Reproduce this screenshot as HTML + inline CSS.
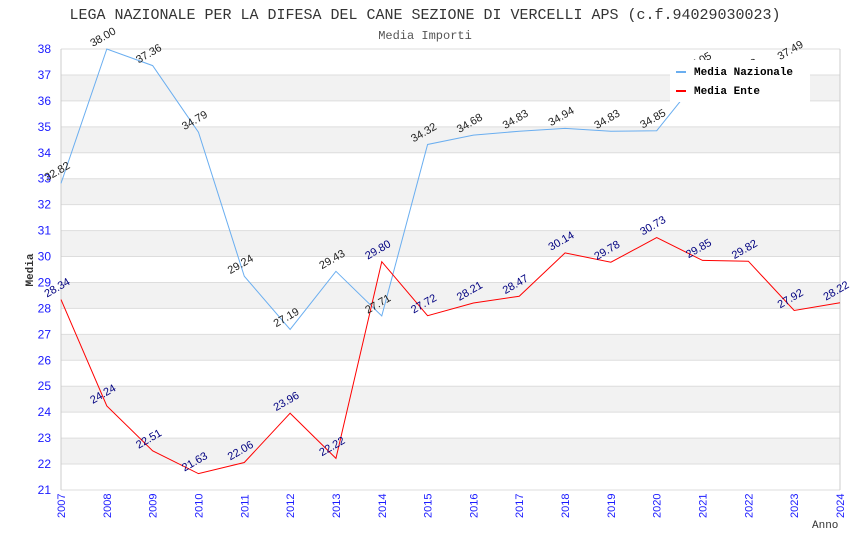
<!DOCTYPE html>
<html><head><meta charset="utf-8"><style>body{margin:0;background:#fff}svg{display:block}</style></head>
<body>
<svg id="c" width="850" height="550" xmlns="http://www.w3.org/2000/svg">
<text x="425" y="19" text-anchor="middle" font-family="Liberation Mono, monospace" font-size="15" fill="#333">LEGA NAZIONALE PER LA DIFESA DEL CANE SEZIONE DI VERCELLI APS (c.f.94029030023)</text>
<text x="425" y="39" text-anchor="middle" font-family="Liberation Mono, monospace" font-size="12" fill="#555">Media Importi</text>
<g id="grid"></g><g id="axes"></g><g id="series"></g><g id="labels"></g>
<g>
<rect x="670" y="60" width="140" height="42" fill="#fff"/>
<line x1="676" y1="72" x2="686" y2="72" stroke="#6aaef0" stroke-width="2"/>
<text x="694" y="75" font-family="Liberation Mono, monospace" font-size="11" font-weight="bold">Media Nazionale</text>
<line x1="676" y1="91" x2="686" y2="91" stroke="red" stroke-width="2"/>
<text x="694" y="94" font-family="Liberation Mono, monospace" font-size="11" font-weight="bold">Media Ente</text>
</g>
<text x="33" y="270" transform="rotate(-90 33 270)" text-anchor="middle" font-family="Liberation Mono, monospace" font-size="11" font-weight="bold" fill="#333">Media</text>
<text x="812" y="528" font-family="Liberation Mono, monospace" font-size="11" fill="#333">Anno</text>
</svg>
<script>
const years=[2007,2008,2009,2010,2011,2012,2013,2014,2015,2016,2017,2018,2019,2020,2021,2022,2023,2024];
const nazionale=[32.82,38.00,37.36,34.79,29.24,27.19,29.43,27.71,34.32,34.68,34.83,34.94,34.83,34.85,37.05,36.8,37.49,null];
const ente=[28.34,24.24,22.51,21.63,22.06,23.96,22.22,29.80,27.72,28.21,28.47,30.14,29.78,30.73,29.85,29.82,27.92,28.22];
const yTicks=[21,22,23,24,25,26,27,28,29,30,31,32,33,34,35,36,37,38];
const NS="http://www.w3.org/2000/svg";
const X0=61,X1=840,Y0=490,Y1=49,yMin=21,yMax=38;
const xs=i=>X0+(X1-X0)*(years[i]-years[0])/(years[years.length-1]-years[0]);
const ys=v=>Y0-(Y0-Y1)*(v-yMin)/(yMax-yMin);
function mk(t,a,p){const e=document.createElementNS(NS,t);for(const k in a)e.setAttribute(k,a[k]);document.getElementById(p).appendChild(e);return e;}
yTicks.forEach(v=>{
 if(v<yMax&&v%2===0){const r=mk('rect',{x:X0,y:ys(v+1),width:X1-X0,height:ys(v)-ys(v+1),fill:'#f2f2f2'},'grid');
 
 }
 const l=mk('line',{x1:X0,x2:X1,y1:ys(v),y2:ys(v),stroke:'#ddd'},'grid');
 
 
 const t=mk('text',{x:X0-10,y:ys(v)+4,'text-anchor':'end','font-family':'Liberation Sans, sans-serif','font-size':12,fill:'#1a1aff'},'axes');
 
 
 t.textContent=v;
});
mk('line',{x1:X0,x2:X0,y1:Y1,y2:Y0,stroke:'#ccc'},'axes');
mk('line',{x1:X1,x2:X1,y1:Y1,y2:Y0,stroke:'#ccc'},'axes');
years.forEach((y,i)=>{
 const x=xs(i),yy=Y0+28;
 const t=mk('text',{x:x+4,y:yy,transform:`rotate(-90 ${x+4} ${yy})`,'font-family':'Liberation Sans, sans-serif','font-size':11,fill:'#1a1aff'},'axes');
 
 
 t.textContent=y;
});
function series(vals,color,lcol,name){
 let d='';vals.forEach((v,i)=>{if(v==null)return;d+=(d?'L':'M')+xs(i)+' '+ys(v);});
 const p=mk('path',{d,fill:'none',stroke:color,'stroke-width':1},'series');
 
 
 vals.forEach((v,i)=>{if(v==null)return;const x=xs(i)-14,y=ys(v)-2;
  const t=mk('text',{x,y,transform:`rotate(-30 ${x} ${y})`,'font-family':'Liberation Sans, sans-serif','font-size':11,fill:lcol},'labels');
  
  
  t.textContent=v.toFixed(2);});
}
series(nazionale,'#6aaef0','#222','media-nazionale');
series(ente,'red','#000080','media-ente');
</script>
</body></html>
